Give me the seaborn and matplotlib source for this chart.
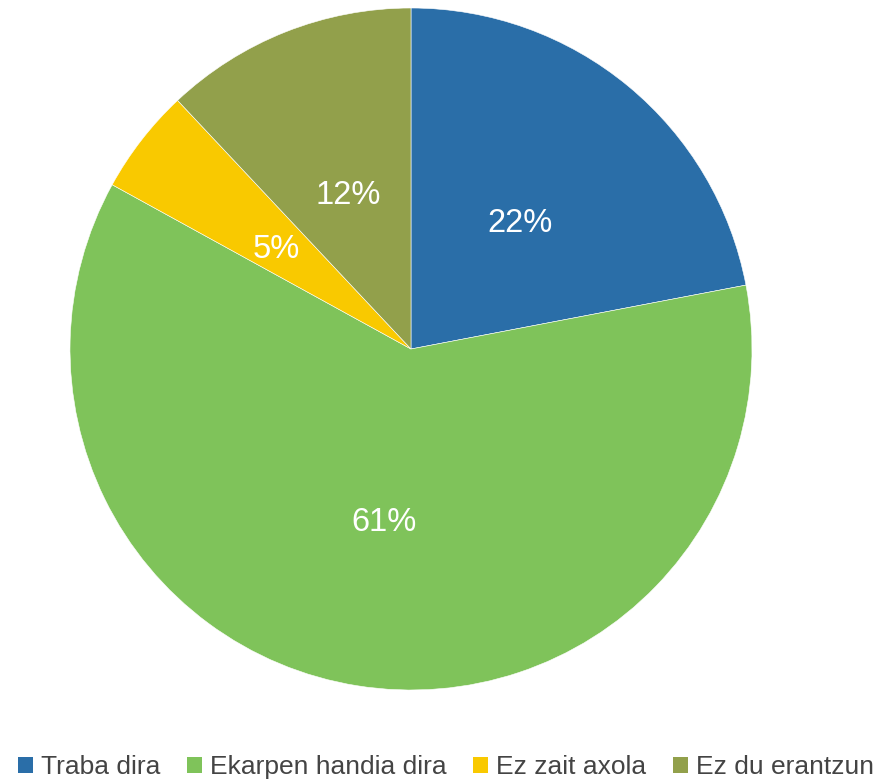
import matplotlib
matplotlib.use("Agg")
import matplotlib.pyplot as plt
import seaborn as sns
from matplotlib.patches import Patch

categories = ["Traba dira", "Ekarpen handia dira", "Ez zait axola", "Ez du erantzun"]
values = [22, 61, 5, 12]
colors = ["#2A6EA8", "#7FC35A", "#F9C900", "#92A04B"]

sns.set_theme(style="white")
plt.rcParams['font.family'] = ['Liberation Sans', 'DejaVu Sans']

fig = plt.figure(figsize=(8.79, 7.84), dpi=100)
ax = fig.add_axes([70 / 879, 94 / 784, 682 / 879, 682 / 784])

wedges, texts, autotexts = ax.pie(
    values,
    colors=colors,
    startangle=90,
    counterclock=False,
    autopct=lambda p: f"{p:.0f}%",
    pctdistance=0.5,
    wedgeprops=dict(edgecolor="white", linewidth=0.4),
    textprops=dict(color="white", fontsize=23.5),
)
# nudge the percentage labels slightly down
for t in autotexts:
    x, y = t.get_position()
    t.set_position((x, y - 0.016))

ax.set_xlim(-1, 1)
ax.set_ylim(-1, 1)
ax.set_aspect("equal")
ax.axis("off")

handles = [Patch(facecolor=c, edgecolor="none") for c in colors]
leg = fig.legend(
    handles, categories,
    loc="center", bbox_to_anchor=(446 / 879, 1 - 767 / 784),
    ncol=4, frameon=False, fontsize=19,
    handlelength=0.56, handleheight=0.56, handletextpad=0.32, columnspacing=1.0,
)
for t in leg.get_texts():
    t.set_color("#444444")

fig.savefig("out.png", dpi=100)
